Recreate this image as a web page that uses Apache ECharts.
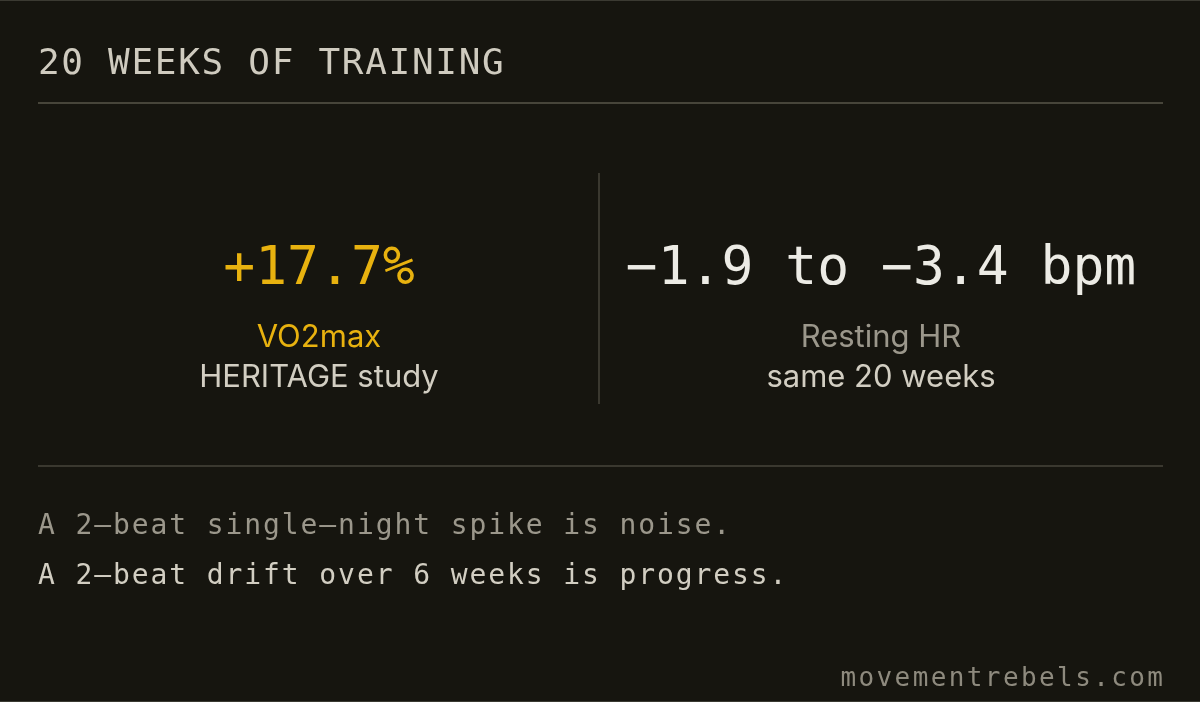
<!DOCTYPE html>
<html>
<head>
<meta charset="utf-8">
<script src="https://cdn.jsdelivr.net/npm/echarts@6/dist/echarts.min.js"></script>
<style>
html,body{margin:0;padding:0;background:#16150f;}
#chart{width:1200px;height:702px;}
</style>
</head>
<body>
<div id="chart"></div>
<script>
const titleText = '20 WEEKS OF TRAINING';
const metricValues = ['+17.7%', '\u22121.9 to \u22123.4 bpm'];
const metricLabels = ['VO2max', 'Resting HR'];
const metricSubLabels = ['HERITAGE study', 'same 20 weeks'];
const noteLines = ['A 2\u2013beat single\u2013night spike is noise.', 'A 2\u2013beat drift over 6 weeks is progress.'];
const footerText = 'movementrebels.com';

const MONO = '"DejaVu Sans Mono", monospace';
const SANS = 'Inter, "Noto Sans", sans-serif';
const BG = '#16150f';

const measureCtx = document.createElement('canvas').getContext('2d');
function charWidth(fontSize) {
  measureCtx.font = fontSize + 'px ' + MONO;
  return measureCtx.measureText('M').width;
}

// monospace text with letter spacing, laid out character by character
function spacedText(text, x, y, fontSize, spacing, fill, align) {
  const cw = charWidth(fontSize);
  const adv = cw + spacing;
  const total = text.length * cw + (text.length - 1) * spacing;
  const startX = align === 'right' ? x - total : x;
  const children = [];
  for (let i = 0; i < text.length; i++) {
    const ch = text[i];
    if (ch === ' ') continue;
    children.push({ type: 'text', style: { text: ch, x: startX + i * adv, y: y, fill: fill, fontFamily: MONO, fontSize: fontSize, textAlign: 'left', textVerticalAlign: 'middle' } });
  }
  return { type: 'group', children: children };
}

const chart = echarts.init(document.getElementById('chart'));

const elements = [
  { type: 'rect', shape: { x: 0, y: 0, width: 1200, height: 702 }, style: { fill: BG } },
  { type: 'rect', shape: { x: 0, y: 0, width: 1200, height: 1 }, style: { fill: '#3b3a32' } },
  { type: 'rect', shape: { x: 0, y: 701, width: 1200, height: 1 }, style: { fill: '#3b3a32' } },
  spacedText(titleText, 38, 65, 36, 1.7, '#cfcbbf', 'left'),
  { type: 'rect', shape: { x: 38, y: 102, width: 1125, height: 2 }, style: { fill: '#47453a' } },
  { type: 'rect', shape: { x: 598, y: 173, width: 2, height: 231 }, style: { fill: '#3a382f' } },
  { type: 'rect', shape: { x: 38, y: 465, width: 1125, height: 2 }, style: { fill: '#3a382f' } }
];

const centers = [319, 881];
const valueColors = ['#e8b20f', '#ecebe5'];
const labelColors = ['#e8b20f', '#9b978b'];
metricValues.forEach((v, i) => {
  elements.push({ type: 'text', style: { text: v, x: centers[i], y: 270, fill: valueColors[i], fontFamily: MONO, fontSize: 53, textAlign: 'center', textVerticalAlign: 'middle' } });
  elements.push({ type: 'text', style: { text: metricLabels[i], x: centers[i], y: 338, fill: labelColors[i], fontFamily: SANS, fontSize: 31, textAlign: 'center', textVerticalAlign: 'middle' } });
  elements.push({ type: 'text', style: { text: metricSubLabels[i], x: centers[i], y: 378, fill: '#d2cec2', fontFamily: SANS, fontSize: 31, textAlign: 'center', textVerticalAlign: 'middle' } });
});

const noteColors = ['#9b978b', '#d2cec2'];
noteLines.forEach((t, i) => {
  elements.push(spacedText(t, 38, 527 + i * 50, 28, 1.9, noteColors[i], 'left'));
});

elements.push(spacedText(footerText, 1163, 679, 26, 2.4, '#8e8a7e', 'right'));

chart.setOption({
  backgroundColor: BG,
  animation: false,
  graphic: { elements: elements }
});
</script>
</body>
</html>
